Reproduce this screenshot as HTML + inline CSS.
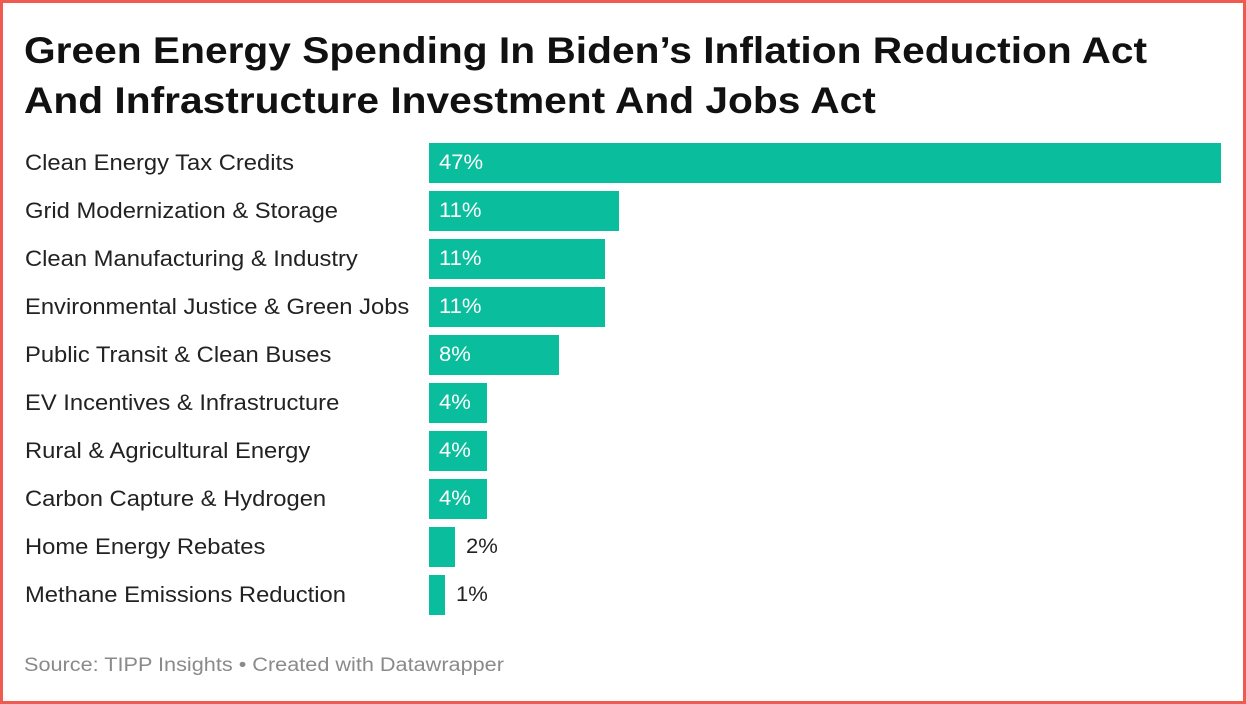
<!DOCTYPE html>
<html><head><meta charset="utf-8"><style>
html,body{margin:0;padding:0}
body{width:1246px;height:704px;position:relative;background:#fff;font-family:"Liberation Sans",sans-serif;overflow:hidden}
.frame{position:absolute;left:0;top:0;width:1240px;height:698px;border:3px solid #ef5b4f}
h1{position:absolute;left:24px;top:26px;margin:0;font-size:37px;line-height:50px;font-weight:bold;color:#111;white-space:nowrap;transform:scaleX(1.10);transform-origin:0 0}
.row{position:absolute;left:0;height:40px;width:1246px}
.lab{position:absolute;left:25px;top:0;line-height:40px;font-size:22px;color:#222;white-space:nowrap;transform:scaleX(1.08);transform-origin:0 0}
.bar{position:absolute;left:429px;top:0;height:40px;background:#0abd9d}
.val{position:absolute;top:0;line-height:40px;font-size:21px;transform:scaleX(1.05);transform-origin:0 0}
.src{position:absolute;left:24px;top:655px;font-size:19px;color:#8a8a8a;white-space:nowrap;transform:scaleX(1.14);transform-origin:0 0}
</style></head><body>
<div class="frame"></div>
<h1>Green Energy Spending In Biden’s Inflation Reduction Act<br>And Infrastructure Investment And Jobs Act</h1>

<div class="row" style="top:143px"><div class="lab">Clean Energy Tax Credits</div><div class="bar" style="width:792px"></div><div class="val" style="left:439px;color:#fff">47%</div></div>
<div class="row" style="top:191px"><div class="lab">Grid Modernization &amp; Storage</div><div class="bar" style="width:190px"></div><div class="val" style="left:439px;color:#fff">11%</div></div>
<div class="row" style="top:239px"><div class="lab">Clean Manufacturing &amp; Industry</div><div class="bar" style="width:176px"></div><div class="val" style="left:439px;color:#fff">11%</div></div>
<div class="row" style="top:287px"><div class="lab">Environmental Justice &amp; Green Jobs</div><div class="bar" style="width:176px"></div><div class="val" style="left:439px;color:#fff">11%</div></div>
<div class="row" style="top:335px"><div class="lab">Public Transit &amp; Clean Buses</div><div class="bar" style="width:130px"></div><div class="val" style="left:439px;color:#fff">8%</div></div>
<div class="row" style="top:383px"><div class="lab">EV Incentives &amp; Infrastructure</div><div class="bar" style="width:58px"></div><div class="val" style="left:439px;color:#fff">4%</div></div>
<div class="row" style="top:431px"><div class="lab">Rural &amp; Agricultural Energy</div><div class="bar" style="width:58px"></div><div class="val" style="left:439px;color:#fff">4%</div></div>
<div class="row" style="top:479px"><div class="lab">Carbon Capture &amp; Hydrogen</div><div class="bar" style="width:58px"></div><div class="val" style="left:439px;color:#fff">4%</div></div>
<div class="row" style="top:527px"><div class="lab">Home Energy Rebates</div><div class="bar" style="width:26px"></div><div class="val" style="left:466px;color:#222">2%</div></div>
<div class="row" style="top:575px"><div class="lab">Methane Emissions Reduction</div><div class="bar" style="width:16px"></div><div class="val" style="left:456px;color:#222">1%</div></div>

<div class="src">Source: TIPP Insights • Created with Datawrapper</div>
</body></html>
